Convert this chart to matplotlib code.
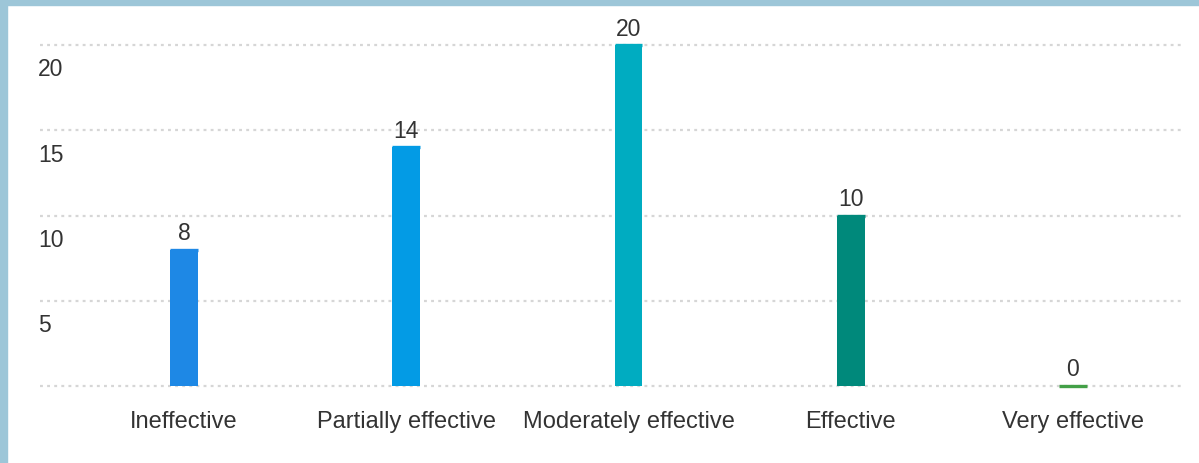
import matplotlib
matplotlib.use('Agg')
import matplotlib.pyplot as plt
from matplotlib.patches import Rectangle

categories = ['Ineffective', 'Partially effective', 'Moderately effective', 'Effective', 'Very effective']
counts = [8, 14, 20, 10, 0]
colors = ['#1E88E5', '#039BE5', '#00ACC1', '#00897B', '#43A047']
yticks = [0, 5, 10, 15, 20]
ytick_labels = ['', '5', '10', '15', '20']

plt.rcParams['font.family'] = ['Liberation Sans', 'DejaVu Sans']
W, H = 1199, 463
fig = plt.figure(figsize=(W / 100, H / 100), dpi=100)

# frame strips (left + top)
fig.patches.append(Rectangle((0, 0), 7 / W, 1, transform=fig.transFigure, color='#9DC6D8', zorder=0))
fig.patches.append(Rectangle((0, 1 - 5 / H), 1, 5 / H, transform=fig.transFigure, color='#9DC6D8', zorder=0))

left, right, bottom, top = 40, 1184, 386, 45
ax = fig.add_axes([left / W, 1 - bottom / H, (right - left) / W, (bottom - top) / H])

x = list(range(len(categories)))
bw = 0.125
ax.bar(x, counts, width=bw, color=colors, linewidth=0, zorder=3)
# cap line on each bar so a zero count still shows as a thin coloured stroke
ax.hlines(counts, [xi - bw / 2 for xi in x], [xi + bw / 2 for xi in x],
          colors=colors, linewidth=2.4, zorder=4, clip_on=False)
ax.set_xlim(-0.648, 4.5)
ax.set_ylim(0, 20)

for v in yticks:
    ax.axhline(v, color='#d6d6d6', linewidth=1.6, linestyle=(0, (1.3, 1.9)), zorder=1, clip_on=False)

for v, lab in zip(yticks, ytick_labels):
    ax.annotate(lab, xy=(0, v), xycoords=ax.get_yaxis_transform(), xytext=(-2, -25),
                textcoords='offset pixels', ha='left', va='center', fontsize=16.5, color='#333333')

for xi, c in zip(x, counts):
    ax.annotate(str(c), xy=(xi, c), xytext=(0, 16), textcoords='offset pixels',
                ha='center', va='center', fontsize=16.5, color='#333333', annotation_clip=False)

ax.set_xticks(x)
ax.set_xticklabels(categories, fontsize=17, color='#333333')
ax.tick_params(axis='x', length=0, pad=18)
ax.set_yticks([])
for s in ax.spines.values():
    s.set_visible(False)

fig.savefig('out.png', dpi=100)
